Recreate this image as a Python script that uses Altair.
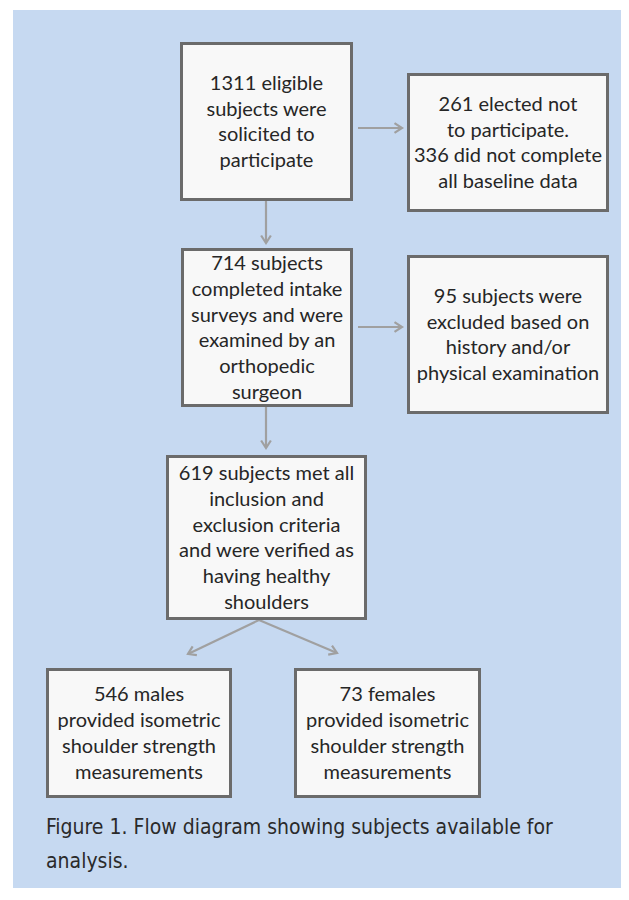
import math
import altair as alt
import pandas as pd

# ---- content -------------------------------------------------------------
box_labels = [
    "1311 eligible\nsubjects were\nsolicited to\nparticipate",
    "261 elected not\nto participate.\n336 did not complete\nall baseline data",
    "714 subjects\ncompleted intake\nsurveys and were\nexamined by an\northopedic\nsurgeon",
    "95 subjects were\nexcluded based on\nhistory and/or\nphysical examination",
    "619 subjects met all\ninclusion and\nexclusion criteria\nand were verified as\nhaving healthy\nshoulders",
    "546 males\nprovided isometric\nshoulder strength\nmeasurements",
    "73 females\nprovided isometric\nshoulder strength\nmeasurements",
]
caption_lines = [
    "Figure 1. Flow diagram showing subjects available for",
    "analysis.",
]

# ---- layout (page pixel coordinates) -------------------------------------
box_left = [180, 407, 181, 407, 166, 46, 294]
box_right = [353, 609, 353, 609, 367, 232, 481]
box_top = [42, 73, 248, 255, 455, 668, 668]
box_bottom = [201, 212, 407, 414, 620, 798, 798]

arrow_from = [(358, 128), (266, 201), (358, 327), (266, 407), (259, 620), (259, 620)]
arrow_to = [(402, 128), (266, 243), (402, 327), (266, 448), (188, 654), (337, 653)]

caption_x = 46
caption_y = [828, 862]

LH = 25.7  # line height of box text
BW = 3     # border width

boxes = pd.DataFrame({
    "x": [v + BW / 2 for v in box_left],
    "x2": [v - BW / 2 for v in box_right],
    "y": [v + BW / 2 for v in box_top],
    "y2": [v - BW / 2 for v in box_bottom],
})

rows = []
for lab, l, r, t, b in zip(box_labels, box_left, box_right, box_top, box_bottom):
    lines = lab.split("\n")
    cx, cy = (l + r) / 2, (t + b) / 2 + 1
    for i, ln in enumerate(lines):
        rows.append({"x": cx, "y": cy + (i - (len(lines) - 1) / 2) * LH, "t": ln})
box_text = pd.DataFrame(rows)

arrows = pd.DataFrame({
    "x": [p[0] for p in arrow_from],
    "y": [p[1] for p in arrow_from],
    "x2": [p[0] for p in arrow_to],
    "y2": [p[1] for p in arrow_to],
})
arrows["angle"] = [
    math.degrees(math.atan2(b[1] - a[1], b[0] - a[0])) % 360
    for a, b in zip(arrow_from, arrow_to)
]

caption = pd.DataFrame({"x": [caption_x] * len(caption_lines), "y": caption_y, "t": caption_lines})

# chart area: page x 8..621, y 8..888 (keeps the page from scrolling)
X0, X1, Y0, Y1 = 8, 621, 8, 888
panel = pd.DataFrame({"x": [13], "x2": [X1], "y": [10], "y2": [Y1]})

xs = alt.Scale(domain=[X0, X1], nice=False, zero=False)
ys = alt.Scale(domain=[Y0, Y1], nice=False, zero=False, reverse=True)

def X(f):
    return alt.X(f, type="quantitative", scale=xs, axis=None)

def Y(f):
    return alt.Y(f, type="quantitative", scale=ys, axis=None)

panel_layer = alt.Chart(panel).mark_rect(color="#c6d9f1").encode(
    x=X("x"), x2="x2", y=Y("y"), y2="y2"
)

arrow_color = "#a0a0a0"
line_layer = alt.Chart(arrows).mark_rule(color=arrow_color, strokeWidth=2.2).encode(
    x=X("x"), y=Y("y"), x2="x2", y2="y2"
)
head_layer = alt.Chart(arrows).mark_point(
    shape="M -1 -0.65 L 0 0 L -1 0.65",
    filled=False,
    stroke=arrow_color,
    strokeWidth=2.2,
    size=225,
    opacity=1,
).encode(x=X("x2"), y=Y("y2"), angle=alt.Angle("angle:Q", scale=None))

box_layer = alt.Chart(boxes).mark_rect(
    fill="#f8f8f8", stroke="#6b6b6b", strokeWidth=BW
).encode(x=X("x"), x2="x2", y=Y("y"), y2="y2")

text_layer = alt.Chart(box_text).mark_text(
    font="Lato",
    fontSize=20,
    align="center",
    baseline="middle",
    color="#262626",
).encode(x=X("x"), y=Y("y"), text="t:N")

caption_layer = alt.Chart(caption).mark_text(
    font="DejaVu Sans Condensed",
    fontSize=21,
    align="left",
    baseline="middle",
    color="#2a2a2a",
).encode(x=X("x"), y=Y("y"), text="t:N")

chart = alt.layer(
    panel_layer, line_layer, head_layer, box_layer, text_layer, caption_layer
).properties(
    width=X1 - X0, height=Y1 - Y0, padding=0,
    autosize=alt.AutoSizeParams(type="none"),
    background="white",
).configure_view(stroke=None)

chart.save("out.html", embed_options={"renderer": "svg", "actions": False})
